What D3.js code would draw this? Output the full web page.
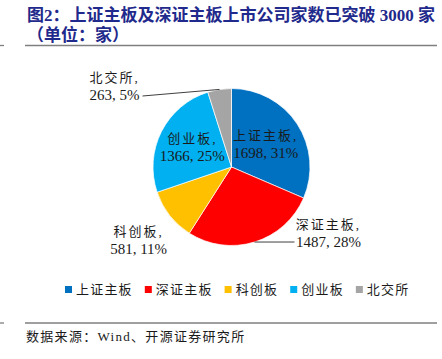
<!DOCTYPE html>
<html><head><meta charset="utf-8">
<script src="https://cdn.jsdelivr.net/npm/d3@7"></script>
<style>
html,body{margin:0;padding:0;background:#fff;}
svg{display:block;}
</style></head>
<body><svg id="c" width="442" height="359"></svg>
<script>
const categories = ["上证主板","深证主板","科创板","创业板","北交所"];
const values = [1698,1487,581,1366,263];
const percents = ["31%","28%","11%","25%","5%"];
const colors = ["#0070C0","#FF0000","#FFC000","#00B0F0","#A5A5A5"];
const titleLines = ["图2：上证主板及深证主板上市公司家数已突破 3000 家","（单位：家）"];
const sourceText = "数据来源：Wind、开源证券研究所";

const svg = d3.select("#c");
const serif = "'Liberation Serif','Times New Roman','Noto Sans CJK SC',serif";
const cjk = "'Liberation Serif','Noto Sans CJK SC',serif";

// title
svg.selectAll("text.title").data(titleLines).enter().append("text")
  .attr("x", 27).attr("y", (d,i)=>21+i*19.5)
  .attr("font-family", cjk).attr("font-weight","bold").attr("font-size",17)
  .attr("fill","#1F2A8C").text(d=>d);

// rules
[45.5, 323].forEach(y=>{
  svg.append("line").attr("x1",25).attr("x2",437).attr("y1",y).attr("y2",y)
    .attr("stroke","#7f7f7f").attr("stroke-width",1.3);
  svg.append("line").attr("x1",0).attr("x2",4).attr("y1",y).attr("y2",y)
    .attr("stroke","#7f7f7f").attr("stroke-width",1.3);
});

// pie
const cx = 231.5, cy = 167, R = 78.5;
const pie = d3.pie().sort(null).value(d=>d.v);
const arcs = pie(values.map((v,i)=>({v, i})));
const arc = d3.arc().innerRadius(0).outerRadius(R);
const g = svg.append("g").attr("transform",`translate(${cx},${cy})`);
g.selectAll("path").data(arcs).enter().append("path")
  .attr("d", arc).attr("fill", d=>colors[d.data.i])
  .attr("stroke","#fff").attr("stroke-width",0.7);

function polar(angle, r){ return [r*Math.sin(angle), -r*Math.cos(angle)]; }
const mid = d => (d.startAngle + d.endAngle)/2;

// label layout
const layout = [
  {r:41, a:null},
  {r:null, pos:[97,66], leader:true},
  {r:118, a:null},
  {r:44, a:null},
  {r:null, pos:[-117,-81], leader:true}
];
arcs.forEach((d,k)=>{
  const L = layout[k];
  let p;
  if (L.r!==null) p = polar(L.a===null?mid(d):L.a, L.r);
  else p = L.pos;
  if (L.leader){
    const e = polar(mid(d), R);
    let end;
    if (p[0] > 0) end = [p[0]-34, p[1]+9];
    else end = [p[0]+28, p[1]+10];
    g.append("line").attr("x1",e[0]).attr("y1",e[1]).attr("x2",end[0]).attr("y2",end[1])
      .attr("stroke","#404040").attr("stroke-width",1);
  }
  const t = g.append("text").attr("text-anchor","middle").attr("fill","#1a1a1a");
  t.append("tspan").attr("x",p[0]).attr("y",p[1]-4)
    .attr("font-family",cjk).attr("font-size",13).attr("letter-spacing",2)
    .text(categories[d.data.i]+",");
  t.append("tspan").attr("x",p[0]).attr("y",p[1]+14)
    .attr("font-family",serif).attr("font-size",15)
    .text(values[d.data.i]+", "+percents[d.data.i]);
});

// legend
const lg = svg.append("g");
let lx = 0;
categories.forEach((c,i)=>{
  const it = lg.append("g");
  it.append("rect").attr("x",0).attr("y",-8).attr("width",7).attr("height",7).attr("fill",colors[i]);
  const tx = it.append("text").attr("x",11).attr("y",0).attr("font-family",cjk)
    .attr("font-size",13).attr("letter-spacing",1.2).attr("fill","#1a1a1a").text(c);
  const w = 11 + tx.node().getComputedTextLength();
  it.attr("transform",`translate(${lx},294)`);
  lx += w + 12;
});
lg.attr("transform",`translate(${65},0)`);

// source
svg.append("text").attr("x",26).attr("y",341).attr("font-family",cjk)
  .attr("font-size",13).attr("letter-spacing",1.3).attr("fill","#1a1a1a").text(sourceText);
</script></body></html>
